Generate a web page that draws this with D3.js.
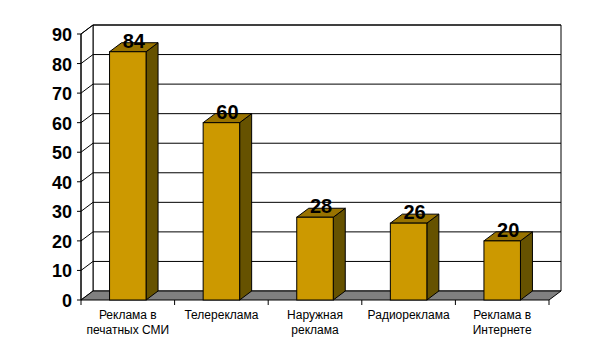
<!DOCTYPE html>
<html>
<head>
<meta charset="utf-8">
<script src="https://cdn.jsdelivr.net/npm/d3@7"></script>
<style>
  body { margin: 0; background: #fff; }
  svg { display: block; font-family: "Liberation Sans", Arial, sans-serif; }
</style>
</head>
<body>
<div id="graphic"></div>
<script>
// column chart with excel-like 3d look
const categories = ['Реклама в\nпечатных СМИ', 'Телереклама', 'Наружная\nреклама', 'Радиореклама', 'Реклама в\nИнтернете']
const values = [84, 60, 28, 26, 20]
const yTicks = [0, 10, 20, 30, 40, 50, 60, 70, 80, 90]

;(function () {
  var width = 607
  var height = 362
  var dx = 12, dy = -9   // depth of the 3d box

  var svg = d3.select('#graphic').append('svg')
    .attr('width', width)
    .attr('height', height)

  var x = d3.scaleBand()
    .domain(categories)
    .range([81, 549])

  var y = d3.scaleLinear()
    .domain([0, 90])
    .range([300, 34])

  var x0 = x.range()[0], x1 = x.range()[1]
  var barW = x.bandwidth() * 0.39

  // back wall + left wall
  svg.append('path')
    .attr('d', `M${x0 + dx},${y(90) + dy}H${x1 + dx}V${y(0) + dy}H${x0 + dx}Z`)
    .attr('fill', '#fff').attr('stroke', '#000')
  svg.append('path')
    .attr('d', `M${x0},${y(90)}L${x0 + dx},${y(90) + dy}V${y(0) + dy}L${x0},${y(0)}Z`)
    .attr('fill', '#fff').attr('stroke', '#000')

  // gridlines across left and back wall
  svg.append('g').selectAll('path')
    .data(yTicks.filter(d => d > 0))
    .enter().append('path')
    .attr('d', d => `M${x0},${y(d)}L${x0 + dx},${y(d) + dy}H${x1 + dx}`)
    .attr('fill', 'none')
    .attr('stroke', '#000')

  // floor
  svg.append('path')
    .attr('d', `M${x0},${y(0)}L${x0 + dx},${y(0) + dy}H${x1 + dx}L${x1},${y(0)}Z`)
    .attr('fill', '#808080').attr('stroke', '#000')

  // value axis
  svg.append('line')
    .attr('x1', x0).attr('x2', x0)
    .attr('y1', y(0)).attr('y2', y(90))
    .attr('stroke', '#000')
  var yAxis = svg.append('g')
  yAxis.selectAll('line')
    .data(yTicks)
    .enter().append('line')
    .attr('x1', x0 - 4).attr('x2', x0)
    .attr('y1', d => y(d)).attr('y2', d => y(d))
    .attr('stroke', '#000')
  yAxis.selectAll('text')
    .data(yTicks)
    .enter().append('text')
    .attr('x', x0 - 9)
    .attr('y', d => y(d) + 7)
    .attr('text-anchor', 'end')
    .style('font-size', '18px')
    .style('font-weight', 'bold')
    .text(d => d)

  // category ticks
  var bounds = categories.map(c => x(c)).concat([x1])
  svg.append('g').selectAll('line')
    .data(bounds)
    .enter().append('line')
    .attr('x1', d => d).attr('x2', d => d)
    .attr('y1', y(0)).attr('y2', y(0) + 5)
    .attr('stroke', '#000')

  // bars
  var bars = svg.append('g').selectAll('g')
    .data(values)
    .enter().append('g')
    .attr('stroke', '#000')
    .attr('stroke-width', 1)

  function bx(i) { return x(categories[i]) + (x.bandwidth() - barW) / 2 }

  bars.append('path') // side
    .attr('d', (d, i) => `M${bx(i) + barW},${y(d)}l${dx},${dy}V${y(0) + dy}l${-dx},${-dy}Z`)
    .attr('fill', '#665200')
  bars.append('path') // top
    .attr('d', (d, i) => `M${bx(i)},${y(d)}l${dx},${dy}h${barW}l${-dx},${-dy}Z`)
    .attr('fill', '#997300')
  bars.append('rect') // front
    .attr('x', (d, i) => bx(i))
    .attr('y', d => y(d))
    .attr('width', barW)
    .attr('height', d => y(0) - y(d))
    .attr('fill', '#CC9900')

  // value labels
  svg.append('g').selectAll('text')
    .data(values)
    .enter().append('text')
    .attr('x', (d, i) => bx(i) + barW / 2 + dx / 2)
    .attr('y', d => y(d) - 4)
    .attr('text-anchor', 'middle')
    .style('font-size', '20px')
    .style('font-weight', 'bold')
    .text(d => d)

  // category labels
  var catLabels = svg.append('g').selectAll('text')
    .data(categories)
    .enter().append('text')
    .attr('text-anchor', 'middle')
    .style('font-size', '12px')
    .attr('transform', d => `translate(${x(d) + x.bandwidth() / 2},319)`)
  catLabels.selectAll('tspan')
    .data(d => d.split('\n'))
    .enter().append('tspan')
    .attr('x', 0)
    .attr('y', (d, i) => i * 15)
    .text(d => d)
})()
</script>
</body>
</html>
